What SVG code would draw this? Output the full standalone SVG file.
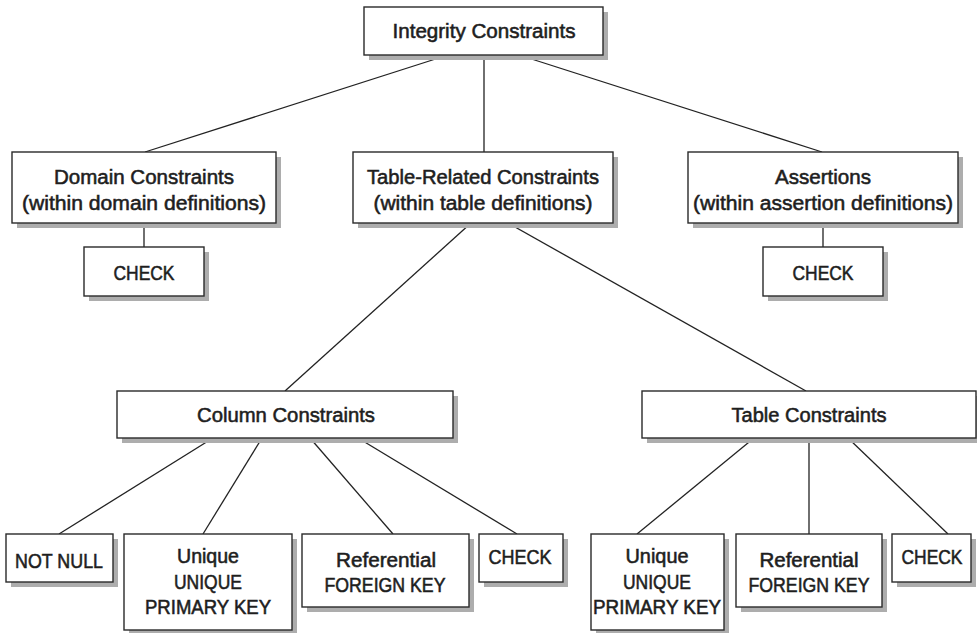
<svg xmlns="http://www.w3.org/2000/svg" width="977" height="633" viewBox="0 0 977 633">
<style>
.box{fill:#fff;stroke:#2a2a2a;stroke-width:1.4}
.sh{fill:#adadad}
.t{font-family:"Liberation Sans",Arial,sans-serif;font-size:20px;fill:#1e1e1e;stroke:#1e1e1e;stroke-width:0.55;text-anchor:middle}
.c line{stroke:#222;stroke-width:1.3}
</style>
<rect width="977" height="633" fill="#fff"/>
<g class="c" id="connectors">
<line x1="448" y1="55" x2="145" y2="152"/>
<line x1="484" y1="55" x2="484" y2="152"/>
<line x1="519" y1="55" x2="822" y2="152"/>
<line x1="144" y1="223" x2="144" y2="247"/>
<line x1="823" y1="223" x2="823" y2="247"/>
<line x1="471" y1="223" x2="285" y2="391"/>
<line x1="508" y1="223" x2="806" y2="391"/>
<line x1="213" y1="438" x2="59" y2="534"/>
<line x1="262" y1="438" x2="203" y2="534"/>
<line x1="310" y1="438" x2="393" y2="534"/>
<line x1="358" y1="438" x2="517" y2="534"/>
<line x1="754" y1="438" x2="637" y2="534"/>
<line x1="809" y1="438" x2="809" y2="534"/>
<line x1="848" y1="438" x2="948" y2="534"/>
</g>
<g id="integrity">
<rect class="sh" x="369" y="12" width="239" height="48"/>
<rect class="box" x="364" y="7" width="239" height="48"/>
<text class="t" x="484" y="38" textLength="183" lengthAdjust="spacingAndGlyphs">Integrity Constraints</text>
</g>
<g id="domain">
<rect class="sh" x="17" y="157" width="264" height="71"/>
<rect class="box" x="12" y="152" width="264" height="71"/>
<text class="t" x="144" y="184" textLength="180" lengthAdjust="spacingAndGlyphs">Domain Constraints</text>
<text class="t" x="144" y="210" textLength="244" lengthAdjust="spacingAndGlyphs">(within domain definitions)</text>
</g>
<g id="tablerelated">
<rect class="sh" x="358" y="157" width="260" height="71"/>
<rect class="box" x="353" y="152" width="260" height="71"/>
<text class="t" x="483" y="184" textLength="232" lengthAdjust="spacingAndGlyphs">Table-Related Constraints</text>
<text class="t" x="483" y="210" textLength="219" lengthAdjust="spacingAndGlyphs">(within table definitions)</text>
</g>
<g id="assertions">
<rect class="sh" x="693" y="157" width="270" height="71"/>
<rect class="box" x="688" y="152" width="270" height="71"/>
<text class="t" x="823" y="184" textLength="96" lengthAdjust="spacingAndGlyphs">Assertions</text>
<text class="t" x="823" y="210" textLength="260" lengthAdjust="spacingAndGlyphs">(within assertion definitions)</text>
</g>
<g id="check-domain">
<rect class="sh" x="89" y="252" width="120" height="49"/>
<rect class="box" x="84" y="247" width="120" height="49"/>
<text class="t" x="144" y="280" textLength="61" lengthAdjust="spacingAndGlyphs">CHECK</text>
</g>
<g id="check-assertion">
<rect class="sh" x="768" y="252" width="120" height="49"/>
<rect class="box" x="763" y="247" width="120" height="49"/>
<text class="t" x="823" y="280" textLength="61" lengthAdjust="spacingAndGlyphs">CHECK</text>
</g>
<g id="column">
<rect class="sh" x="122" y="396" width="336" height="47"/>
<rect class="box" x="117" y="391" width="336" height="47"/>
<text class="t" x="286" y="422" textLength="178" lengthAdjust="spacingAndGlyphs">Column Constraints</text>
</g>
<g id="table">
<rect class="sh" x="647" y="396" width="334" height="47"/>
<rect class="box" x="642" y="391" width="334" height="47"/>
<text class="t" x="809" y="422" textLength="155" lengthAdjust="spacingAndGlyphs">Table Constraints</text>
</g>
<g id="notnull">
<rect class="sh" x="11" y="539" width="107" height="48"/>
<rect class="box" x="6" y="534" width="107" height="48"/>
<text class="t" x="59" y="568" textLength="88" lengthAdjust="spacingAndGlyphs">NOT NULL</text>
</g>
<g id="unique-col">
<rect class="sh" x="129" y="539" width="168" height="96"/>
<rect class="box" x="124" y="534" width="168" height="96"/>
<text class="t" x="208" y="563" textLength="62" lengthAdjust="spacingAndGlyphs">Unique</text>
<text class="t" x="208" y="589" textLength="68" lengthAdjust="spacingAndGlyphs">UNIQUE</text>
<text class="t" x="208" y="614" textLength="126" lengthAdjust="spacingAndGlyphs">PRIMARY KEY</text>
</g>
<g id="ref-col">
<rect class="sh" x="307" y="539" width="167" height="73"/>
<rect class="box" x="302" y="534" width="167" height="73"/>
<text class="t" x="386" y="567" textLength="100" lengthAdjust="spacingAndGlyphs">Referential</text>
<text class="t" x="385" y="592" textLength="121" lengthAdjust="spacingAndGlyphs">FOREIGN KEY</text>
</g>
<g id="check-col">
<rect class="sh" x="484" y="539" width="84" height="48"/>
<rect class="box" x="479" y="534" width="84" height="48"/>
<text class="t" x="520" y="564" textLength="63" lengthAdjust="spacingAndGlyphs">CHECK</text>
</g>
<g id="unique-table">
<rect class="sh" x="596" y="539" width="133" height="96"/>
<rect class="box" x="591" y="534" width="133" height="96"/>
<text class="t" x="657" y="563" textLength="63" lengthAdjust="spacingAndGlyphs">Unique</text>
<text class="t" x="657" y="589" textLength="68" lengthAdjust="spacingAndGlyphs">UNIQUE</text>
<text class="t" x="657" y="614" textLength="128" lengthAdjust="spacingAndGlyphs">PRIMARY KEY</text>
</g>
<g id="ref-table">
<rect class="sh" x="741" y="539" width="146" height="73"/>
<rect class="box" x="736" y="534" width="146" height="73"/>
<text class="t" x="809" y="567" textLength="99" lengthAdjust="spacingAndGlyphs">Referential</text>
<text class="t" x="809" y="592" textLength="121" lengthAdjust="spacingAndGlyphs">FOREIGN KEY</text>
</g>
<g id="check-table">
<rect class="sh" x="897" y="539" width="79" height="48"/>
<rect class="box" x="892" y="534" width="79" height="48"/>
<text class="t" x="932" y="564" textLength="61" lengthAdjust="spacingAndGlyphs">CHECK</text>
</g>
</svg>
